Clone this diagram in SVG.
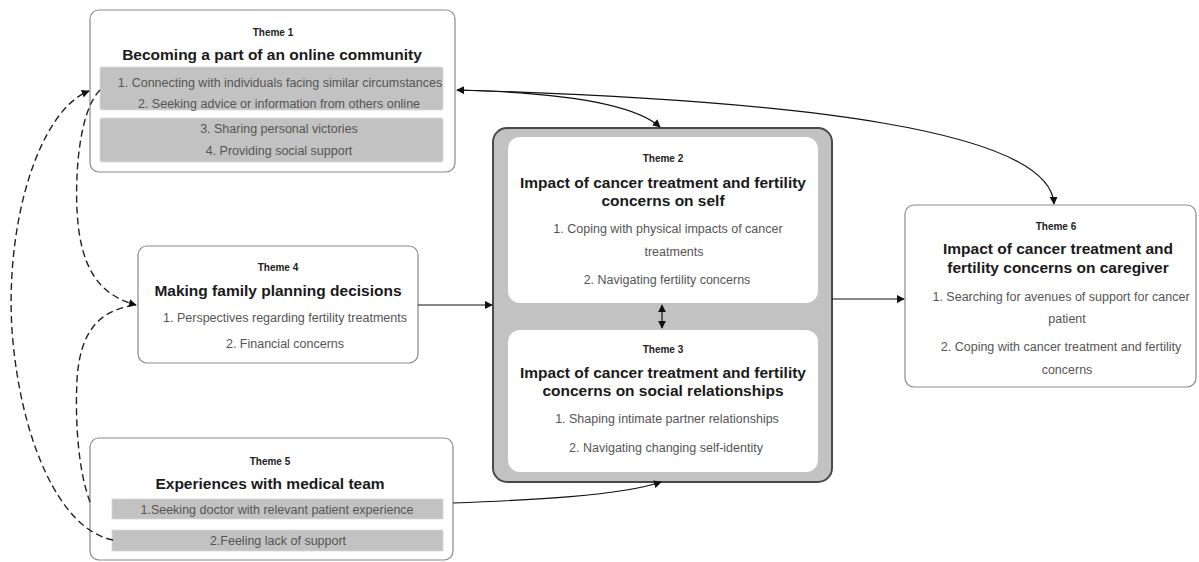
<svg xmlns="http://www.w3.org/2000/svg" width="1199" height="562" viewBox="0 0 1199 562">
<defs>
<marker id="ah" viewBox="0 0 10 10" refX="9" refY="5" markerWidth="8" markerHeight="8" markerUnits="userSpaceOnUse" orient="auto-start-reverse">
<path d="M0,0 L10,5 L0,10 z" fill="#111"/>
</marker>
<style>
.box{fill:#fff;stroke:#8a8a8a;stroke-width:1.2}
.band{fill:#c2c2c2;stroke:#d8d8d8;stroke-width:0.8}
.lbl{font-family:"Liberation Sans",Arial,sans-serif;font-size:10px;font-weight:bold;fill:#222;text-anchor:middle}
.ttl{font-family:"Liberation Sans",Arial,sans-serif;font-size:15.5px;font-weight:bold;fill:#1a1a1a;text-anchor:middle}
.itm{font-family:"Liberation Sans",Arial,sans-serif;font-size:12.5px;fill:#555;text-anchor:middle}
.con{fill:none;stroke:#111;stroke-width:1.2}
.dash{fill:none;stroke:#222;stroke-width:1.4;stroke-dasharray:7 4}
</style>
</defs>
<rect width="1199" height="562" fill="#fff"/>

<g id="theme1">
<rect class="box" x="90" y="10" width="365" height="162" rx="9"/>
<rect class="band" x="100" y="67" width="343" height="43" rx="2"/>
<rect class="band" x="100" y="118" width="343" height="44" rx="2"/>
<text class="lbl" x="273" y="35.6">Theme 1</text>
<text class="ttl" x="272" y="59.5">Becoming a part of an online community</text>
<text class="itm" x="280" y="86.5">1. Connecting with individuals facing similar circumstances</text>
<text class="itm" x="279" y="107.5">2. Seeking advice or information from others online</text>
<text class="itm" x="279" y="132.5">3. Sharing personal victories</text>
<text class="itm" x="279" y="154.5">4. Providing social support</text>
</g>

<g id="central">
<rect x="493" y="128" width="339" height="354" rx="14" fill="#c2c2c2" stroke="#4a4a4a" stroke-width="2"/>
</g>

<g id="theme2">
<rect x="508" y="137" width="310" height="166" rx="12" fill="#fff"/>
<text class="lbl" x="663" y="161.6">Theme 2</text>
<text class="ttl" x="663" y="187.5">Impact of cancer treatment and fertility</text>
<text class="ttl" x="663" y="205.5">concerns on self</text>
<text class="itm" x="668" y="232.5">1. Coping with physical impacts of cancer</text>
<text class="itm" x="674" y="255.5">treatments</text>
<text class="itm" x="667" y="283.5">2. Navigating fertility concerns</text>
</g>

<g id="theme3">
<rect x="508" y="330" width="310" height="142" rx="12" fill="#fff"/>
<text class="lbl" x="663" y="352.6">Theme 3</text>
<text class="ttl" x="663" y="377.5">Impact of cancer treatment and fertility</text>
<text class="ttl" x="663" y="395.5">concerns on social relationships</text>
<text class="itm" x="667" y="422.5">1. Shaping intimate partner relationships</text>
<text class="itm" x="666" y="451.5">2. Navigating changing self-identity</text>
</g>

<g id="theme4">
<rect class="box" x="138" y="246" width="280" height="117" rx="9"/>
<text class="lbl" x="278" y="270.6">Theme 4</text>
<text class="ttl" x="278" y="295.5">Making family planning decisions</text>
<text class="itm" x="285" y="321.5">1. Perspectives regarding fertility treatments</text>
<text class="itm" x="285" y="347.5">2. Financial concerns</text>
</g>

<g id="theme5">
<rect class="box" x="90" y="438" width="363" height="122" rx="9"/>
<rect class="band" x="112" y="499" width="331" height="20"/>
<rect class="band" x="112" y="530" width="331" height="21"/>
<text class="lbl" x="270" y="464.6">Theme 5</text>
<text class="ttl" x="270" y="488.5">Experiences with medical team</text>
<text class="itm" x="277" y="513.5">1.Seeking doctor with relevant patient experience</text>
<text class="itm" x="278" y="544.5">2.Feeling lack of support</text>
</g>

<g id="theme6">
<rect class="box" x="905" y="205" width="291" height="182" rx="9"/>
<text class="lbl" x="1056" y="229.6">Theme 6</text>
<text class="ttl" x="1058" y="253.5">Impact of cancer treatment and</text>
<text class="ttl" x="1058" y="272.5">fertility concerns on caregiver</text>
<text class="itm" x="1061" y="300.5">1. Searching for avenues of support for cancer</text>
<text class="itm" x="1067" y="322.5">patient</text>
<text class="itm" x="1061" y="350.5">2. Coping with cancer treatment and fertility</text>
<text class="itm" x="1067" y="373.5">concerns</text>
</g>

<g id="connectors">
<path class="con" d="M660,127 C630,100 540,92 457,90" marker-end="url(#ah)" marker-start="url(#ah)"/>
<path class="con" d="M457,90 C800,100 1050,130 1054,204" marker-end="url(#ah)"/>
<path class="con" d="M418,305 L492,305" marker-end="url(#ah)"/>
<path class="con" d="M832,299 L904,299" marker-end="url(#ah)"/>
<path class="con" d="M662,305 L662,328" marker-end="url(#ah)" marker-start="url(#ah)"/>
<path class="con" d="M453,503 C530,500 620,496 661,482" marker-end="url(#ah)"/>
<path class="dash" d="M113,540 C60,530 20,440 12,330 C5,220 40,110 89,91" marker-end="url(#ah)"/>
<path class="dash" d="M100,90 C80,110 75,170 77,210 C80,270 100,295 136,305" marker-end="url(#ah)"/>
<path class="dash" d="M90,502 C78,470 75,420 77,380 C80,330 100,312 130,306"/>
</g>
</svg>
